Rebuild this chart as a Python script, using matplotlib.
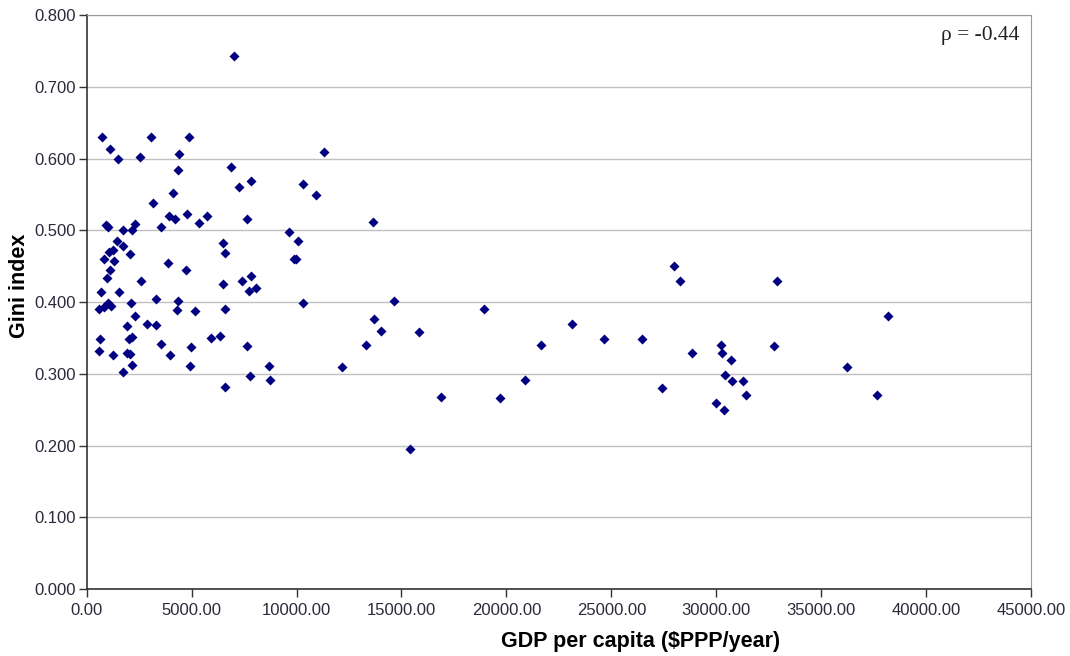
import numpy as np
import matplotlib
matplotlib.use("Agg")
import matplotlib.pyplot as plt

# GDP per capita ($PPP/year) and Gini index
gdp = [
    7005, 729, 1110, 1477, 2554, 3078, 4860, 4412, 4336, 6862, 7243, 7815,
    3145, 4126, 3936, 4193, 4765, 5718, 5365, 7624, 900, 1000, 1715, 2173,
    2316, 3526, 1458, 1744, 1267, 1077, 2063, 824, 1287, 3888, 4717, 1110,
    982, 6480, 6590, 6480, 7400, 7843, 7748, 8053, 2587, 667, 1553, 600,
    824, 1029, 1144, 2097, 3302, 4365, 4317, 5160, 6576, 2316, 1935, 2888,
    3302, 3526, 4970, 5909, 6352, 7624, 634, 2030, 2173, 600, 1239, 1906,
    2063, 3969, 2173, 4937, 1715, 7781, 6576,
    11308, 10321, 10927, 13628, 9625, 10083, 9878, 9973, 10321, 14657,
    13690, 14009, 15848, 13323, 8701, 8734, 12151, 16883, 15405,
    18946, 19694, 20885, 21662, 23110, 24664, 26474, 27428, 27970, 28285,
    28857, 30223, 30257, 30686, 30414, 30734, 29986, 30381,
    32893, 38168, 32764, 31287, 31415, 36229, 37658,
]
gini = [
    0.743, 0.630, 0.613, 0.600, 0.602, 0.630, 0.630, 0.606, 0.584, 0.588, 0.561, 0.569,
    0.538, 0.552, 0.520, 0.516, 0.523, 0.520, 0.510, 0.516, 0.508, 0.504, 0.500, 0.500,
    0.509, 0.504, 0.485, 0.478, 0.472, 0.470, 0.467, 0.460, 0.457, 0.455, 0.445, 0.445,
    0.434, 0.483, 0.469, 0.425, 0.429, 0.436, 0.416, 0.419, 0.429, 0.414, 0.414, 0.390,
    0.393, 0.399, 0.395, 0.399, 0.404, 0.402, 0.389, 0.388, 0.390, 0.380, 0.367, 0.370,
    0.368, 0.342, 0.338, 0.350, 0.353, 0.339, 0.349, 0.348, 0.352, 0.332, 0.326, 0.329,
    0.328, 0.326, 0.312, 0.311, 0.302, 0.297, 0.281,
    0.609, 0.565, 0.549, 0.512, 0.498, 0.485, 0.460, 0.460, 0.399, 0.402,
    0.377, 0.360, 0.358, 0.340, 0.311, 0.292, 0.309, 0.268, 0.195,
    0.390, 0.266, 0.292, 0.340, 0.370, 0.349, 0.349, 0.280, 0.450, 0.429,
    0.329, 0.340, 0.329, 0.319, 0.299, 0.290, 0.260, 0.249,
    0.429, 0.380, 0.339, 0.290, 0.270, 0.309, 0.270,
]
rho_text = "ρ = -0.44"

x_ticks = np.arange(0, 45001, 5000)
y_ticks = np.arange(0, 0.801, 0.1)

plt.rcParams['font.family'] = ['Liberation Sans', 'DejaVu Sans']

fig = plt.figure(figsize=(10.7, 6.56), dpi=100)
ax = fig.add_axes([0.081, 0.102, 0.8826, 0.875])

ax.scatter(gdp, gini, marker='D', s=26, color='#000080', linewidths=0, zorder=3)

ax.set_xlim(0, 45000)
ax.set_ylim(0, 0.8)
ax.set_xticks(x_ticks)
ax.set_yticks(y_ticks)
ax.set_xticklabels(["%.2f" % v for v in x_ticks])
ax.set_yticklabels(["%.3f" % v for v in y_ticks])
ax.tick_params(direction='out', length=6, width=1, labelsize=12,
               labelcolor='#2a2a3a', color='#333333')
ax.tick_params(axis='y', pad=1.5)
ax.tick_params(axis='x', pad=4)
ax.yaxis.grid(True, color='#c0c0c0', linewidth=1)
ax.set_axisbelow(True)

for side in ['top', 'right']:
    ax.spines[side].set_color('#999999')
for side in ['left', 'bottom']:
    ax.spines[side].set_color('#333333')
    ax.spines[side].set_linewidth(1.2)

ax.set_xlabel("GDP per capita ($PPP/year)", fontsize=15.5, fontweight='bold', va='center')
ax.set_ylabel("Gini index", fontsize=15.5, fontweight='bold', va='center')
ax.xaxis.set_label_coords(0.586, -0.091)
ax.yaxis.set_label_coords(-0.0706, 0.528)

ax.text(0.9873, 0.965, rho_text, transform=ax.transAxes, ha='right', va='center',
        fontsize=15.5, family=['Liberation Serif', 'DejaVu Serif'], color='#222222')

fig.savefig("out.png", dpi=100)
